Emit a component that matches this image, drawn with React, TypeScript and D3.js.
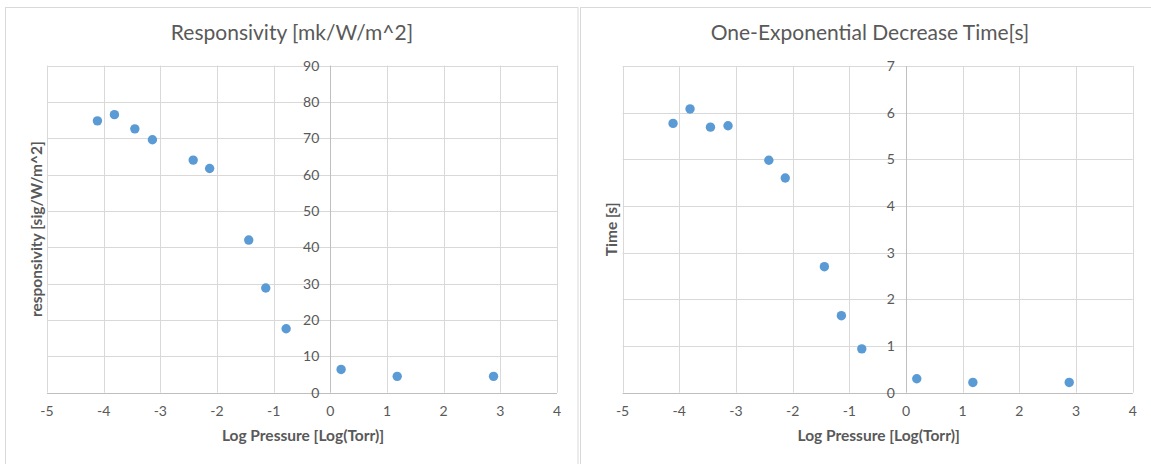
import React from "react";
import * as d3 from "d3";

// Log pressure of each measurement, shared by both panels
const logPressure = [-4.11, -3.81, -3.45, -3.14, -2.42, -2.13, -1.44, -1.14, -0.78, 0.19, 1.18, 2.88];
// Responsivity [sig/W/m^2]
const responsivity = [74.8, 76.5, 72.6, 69.6, 64.0, 61.7, 42.0, 28.8, 17.6, 6.4, 4.5, 4.5];
// One-exponential decrease time [s]
const decayTime = [5.77, 6.08, 5.69, 5.72, 4.98, 4.6, 2.7, 1.65, 0.94, 0.3, 0.22, 0.22];

const xTicks = [-5, -4, -3, -2, -1, 0, 1, 2, 3, 4];
const respTicks = [0, 10, 20, 30, 40, 50, 60, 70, 80, 90];
const timeTicks = [0, 1, 2, 3, 4, 5, 6, 7];

const FONT = "Lato, 'Open Sans', sans-serif";
const TEXT = "#595959";
const GRID = "#d9d9d9";
const AXIS = "#bfbfbf";
const MARK = "#5b9bd5";

type PanelProps = {
  frame: { x: number; y: number; w: number; h: number };
  plot: { left: number; right: number; top: number; bottom: number };
  title: string;
  yTitle: string;
  yTicks: number[];
  yMax: number;
  values: number[];
  titleX: number;
};

function Panel({ frame, plot, title, yTitle, yTicks, yMax, values, titleX }: PanelProps) {
  const x = d3.scaleLinear().domain([-5, 4]).range([plot.left, plot.right]);
  const y = d3.scaleLinear().domain([0, yMax]).range([plot.bottom, plot.top]);
  const x0 = x(0);
  const cy = (plot.top + plot.bottom) / 2;
  return (
    <g>
      <rect x={frame.x} y={frame.y} width={frame.w} height={frame.h} fill="#fff" stroke={GRID} strokeWidth={1} />
      <text x={titleX} y={40} textAnchor="middle" fontFamily={FONT} fontSize={21} fill={TEXT}>
        {title}
      </text>
      {/* horizontal gridlines */}
      {yTicks.map((t) => (
        <line key={"h" + t} x1={plot.left} x2={plot.right} y1={Math.round(y(t)) + 0.5} y2={Math.round(y(t)) + 0.5} stroke={t === 0 ? AXIS : GRID} strokeWidth={1} />
      ))}
      {/* vertical gridlines */}
      {xTicks.map((t) => (
        <line key={"v" + t} x1={Math.round(x(t)) + 0.5} x2={Math.round(x(t)) + 0.5} y1={plot.top} y2={plot.bottom} stroke={t === 0 ? AXIS : GRID} strokeWidth={1} />
      ))}
      {/* y tick labels beside the axis at x = 0 */}
      {yTicks.map((t) => (
        <text key={"yl" + t} x={x0 - 11} y={y(t)} dy="0.35em" textAnchor="end" fontFamily={FONT} fontSize={14} fill={TEXT}>
          {t}
        </text>
      ))}
      {/* x tick labels */}
      {xTicks.map((t) => (
        <text key={"xl" + t} x={x(t)} y={plot.bottom + 18} dy="0.35em" textAnchor="middle" fontFamily={FONT} fontSize={14} fill={TEXT}>
          {t}
        </text>
      ))}
      <text x={(plot.left + plot.right) / 2 + 1} y={436} dy="0.35em" textAnchor="middle" fontFamily={FONT} fontSize={15.5} fontWeight="bold" fill={TEXT}>
        Log Pressure [Log(Torr)]
      </text>
      <text transform={`translate(${frame.x + 31},${cy}) rotate(-90)`} textAnchor="middle" dy="0.35em" fontFamily={FONT} fontSize={15.5} fontWeight="bold" fill={TEXT}>
        {yTitle}
      </text>
      {values.map((v, i) => (
        <circle key={"p" + i} cx={x(logPressure[i])} cy={y(v)} r={4.7} fill={MARK} />
      ))}
    </g>
  );
}

export default function App() {
  return (
    <svg width={1151} height={464} style={{ position: "absolute", left: 0, top: 0, background: "#fff" }}>
      <Panel
        frame={{ x: 5.5, y: 7.5, w: 572.5, h: 470 }}
        plot={{ left: 47, right: 557, top: 65.6, bottom: 392.7 }}
        title="Responsivity [mk/W/m^2]"
        yTitle="responsivity [sig/W/m^2]"
        yTicks={respTicks}
        yMax={90}
        values={responsivity}
        titleX={292}
      />
      <Panel
        frame={{ x: 580.5, y: 7.5, w: 590, h: 470 }}
        plot={{ left: 622.6, right: 1132.7, top: 66, bottom: 392.7 }}
        title="One-Exponential Decrease Time[s]"
        yTitle="Time [s]"
        yTicks={timeTicks}
        yMax={7}
        values={decayTime}
        titleX={870}
      />
    </svg>
  );
}
